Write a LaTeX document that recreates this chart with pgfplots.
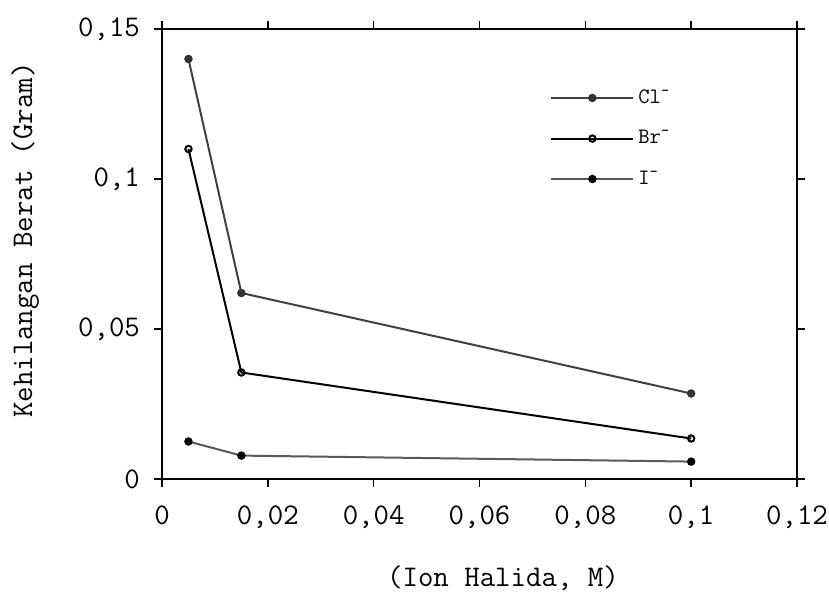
\documentclass[border=0pt]{standalone}
\usepackage{pgfplots}
\pgfplotsset{compat=1.18}
\renewcommand{\familydefault}{\ttdefault}

\newcommand{\bigf}{\fontsize{15}{17}\selectfont}
\newcommand{\legf}{\fontsize{11}{13}\selectfont}

\begin{document}
\begin{tikzpicture}
\useasboundingbox (-81pt,-59.5pt) rectangle (333.5pt,239.5pt);
\begin{axis}[
  scale only axis, width=317.5pt, height=225pt,
  xmin=0, xmax=0.12, ymin=0, ymax=0.15,
  xtick={0,0.02,0.04,0.06,0.08,0.1,0.12},
  xticklabels={0,{0,02},{0,04},{0,06},{0,08},{0,1},{0,12}},
  ytick={0,0.05,0.1,0.15},
  yticklabels={0,{0,05},{0,1},{0,15}},
  tick align=outside, major tick length=4pt,
  axis line style={line width=0.9pt},
  every tick/.style={black, line width=0.8pt},
  tick label style={font=\bigf},
  xticklabel style={yshift=-6pt},
  yticklabel style={xshift=-3.5pt},
  label style={font=\bigf},
  xlabel={(Ion Halida, M)},
  ylabel={Kehilangan Berat  (Gram)},
  xlabel style={at={(axis description cs:0.537,-0.22)}, anchor=center},
  ylabel style={at={(axis description cs:-0.2157,0.531)}, anchor=center},
  legend style={at={(axis description cs:0.611,0.875)}, anchor=north west,
    draw=none, fill=none, font=\legf, row sep=8pt, inner sep=0pt,
    nodes={inner sep=2pt}},
  legend cell align=left,
  legend image code/.code={
    \draw[mark repeat=2,mark phase=2,#1] plot coordinates {(0pt,0pt)(20.5pt,0pt)(41pt,0pt)};},
]
\addplot[black!75, line width=1pt, mark=*, mark size=1.6pt, mark options={fill=black!80, draw=black!80}]
  coordinates {(0.005,0.140)(0.015,0.062)(0.1,0.0285)};
\addlegendentry{Cl\textsuperscript{-}}
\addplot[black, line width=1pt, mark=o, mark size=1.6pt, mark options={fill=white}]
  coordinates {(0.005,0.110)(0.015,0.0355)(0.1,0.0135)};
\addlegendentry{Br\textsuperscript{-}}
\addplot[black!65, line width=1pt, mark=*, mark size=1.6pt, mark options={fill=black, draw=black}]
  coordinates {(0.005,0.0125)(0.015,0.0078)(0.1,0.0058)};
\addlegendentry{I\textsuperscript{-}}
\end{axis}
\end{tikzpicture}
\end{document}
